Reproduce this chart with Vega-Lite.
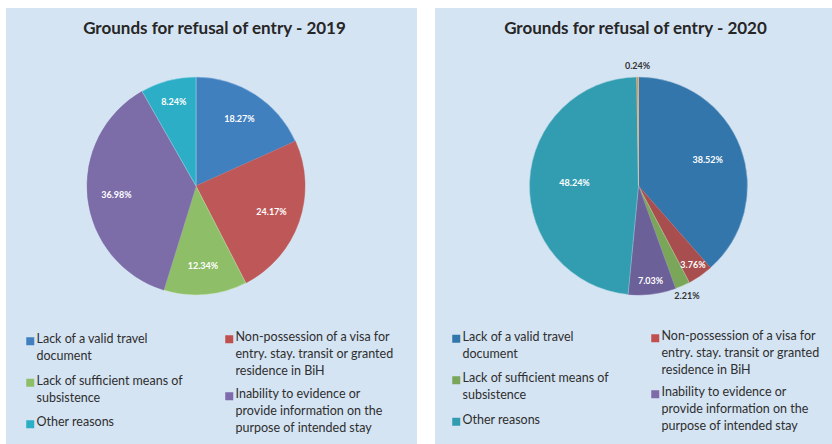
{
  "$schema": "https://vega.github.io/schema/vega-lite/v6.json",
  "background": "white",
  "padding": {"left": 6, "top": 8, "right": 0, "bottom": 0},
  "spacing": 18,
  "config": {
    "view": {"stroke": null, "fill": "#D5E4F3"},
    "font": "Lato",
    "legend": {
      "orient": "none",
      "title": null,
      "padding": 0,
      "symbolType": "square",
      "symbolSize": 64,
      "symbolStrokeWidth": 0,
      "symbolOffset": 0,
      "labelFont": "Lato",
      "labelFontSize": 12.5,
      "labelColor": "#2E2E2E",
      "labelOffset": 0,
      "labelLimit": 400,
      "labelBaseline": "top",
      "rowPadding": 11.5
    },
    "title": {"font": "Lato", "fontSize": 17, "fontWeight": "bold", "color": "#262626", "anchor": "middle", "offset": -30}
  },
  "resolve": {
    "scale": {"fill": "independent", "stroke": "independent", "theta": "independent"},
    "legend": {"fill": "independent", "stroke": "independent"}
  },
  "hconcat": [
    {
      "width": 411,
      "height": 436,
      "view": {"stroke": null, "fill": "#D5E4F3"},
      "title": {"text": "Grounds for refusal of entry - 2019", "dx": 3},
      "data": {"values": [
        {"reason": "Lack of a valid travel document", "share": 0.1827, "order": 1},
        {"reason": "Non-possession of a visa for entry. stay. transit or granted residence in BiH", "share": 0.2417, "order": 2},
        {"reason": "Lack of sufficient means of subsistence", "share": 0.1234, "order": 3},
        {"reason": "Inability to evidence or provide information on the purpose of intended stay", "share": 0.3698, "order": 4},
        {"reason": "Other reasons", "share": 0.0824, "order": 5}
      ]},
      "layer": [
        {
          "mark": {"type": "arc", "radius": 109, "x": 190, "y": 178, "strokeWidth": 0.5},
          "encoding": {
            "theta": {"field": "share", "type": "quantitative", "stack": true},
            "order": {"field": "order", "type": "quantitative"},
            "fill": {
              "field": "reason", "type": "nominal",
              "scale": {
                "domain": ["Lack of a valid travel document", "Non-possession of a visa for entry. stay. transit or granted residence in BiH", "Lack of sufficient means of subsistence", "Inability to evidence or provide information on the purpose of intended stay", "Other reasons"],
                "range": ["#4080BF", "#BE5858", "#8EBF68", "#7C6CA8", "#2BAEC6"]
              },
              "legend": {
                "values": ["Lack of a valid travel document", "Lack of sufficient means of subsistence", "Other reasons"],
                "legendX": 18, "legendY": 327,
                "labelExpr": "datum.label == 'Lack of a valid travel document' ? ['Lack of a valid travel', 'document'] : datum.label == 'Lack of sufficient means of subsistence' ? ['Lack of sufficient means of', 'subsistence'] : datum.label",
                "encode": {
                  "labels": {"update": {"lineHeight": {"value": 17}, "dy": {"value": -8}}}
                }
              }
            },
            "stroke": {
              "field": "reason", "type": "nominal",
              "scale": {
                "domain": ["Non-possession of a visa for entry. stay. transit or granted residence in BiH", "Inability to evidence or provide information on the purpose of intended stay", "Lack of a valid travel document", "Lack of sufficient means of subsistence", "Other reasons"],
                "range": ["#C0504D", "#7E6BAB", "#A9C6E6", "#C9E2B6", "#A6DCE8"]
              },
              "legend": {
                "values": ["Non-possession of a visa for entry. stay. transit or granted residence in BiH", "Inability to evidence or provide information on the purpose of intended stay"],
                "legendX": 217, "legendY": 325,
                "symbolSize": 16, "symbolStrokeWidth": 4, "symbolFillColor": "transparent",
                "rowPadding": 8,
                "labelExpr": "datum.label == 'Non-possession of a visa for entry. stay. transit or granted residence in BiH' ? ['Non-possession of a visa for', 'entry. stay. transit or granted', 'residence in BiH'] : ['Inability to evidence or', 'provide information on the', 'purpose of intended stay']",
                "encode": {
                  "labels": {"update": {"lineHeight": {"value": 17}, "dy": {"value": -8}}}
                }
              }
            }
          }
        },
        {
          "mark": {"type": "text", "x": 190, "y": 178, "font": "Lato", "fontWeight": "bold", "fontSize": 9, "radius": {"expr": "datum.share < 0.1 ? 87 : 80"}},
          "encoding": {
            "theta": {"field": "share", "type": "quantitative", "stack": true},
            "order": {"field": "order", "type": "quantitative"},
            "text": {"field": "share", "type": "quantitative", "format": ".2%"},
            "color": {"condition": {"test": "datum.share < 0.03", "value": "#333333"}, "value": "white"}
          }
        }
      ]
    },
    {
      "width": 397,
      "height": 436,
      "view": {"stroke": null, "fill": "#D5E4F3"},
      "title": {"text": "Grounds for refusal of entry - 2020", "dx": 2},
      "data": {"values": [
        {"reason": "Lack of a valid travel document", "share": 0.3852, "order": 1},
        {"reason": "Non-possession of a visa for entry. stay. transit or granted residence in BiH", "share": 0.0376, "order": 2},
        {"reason": "Lack of sufficient means of subsistence", "share": 0.0221, "order": 3},
        {"reason": "Inability to evidence or provide information on the purpose of intended stay", "share": 0.0703, "order": 4},
        {"reason": "Other reasons", "share": 0.4824, "order": 5},
        {"reason": "Unspecified", "share": 0.0024, "order": 6}
      ]},
      "layer": [
        {
          "mark": {"type": "arc", "radius": 109, "x": 203.5, "y": 178, "strokeWidth": 0.5},
          "encoding": {
            "theta": {"field": "share", "type": "quantitative", "stack": true},
            "order": {"field": "order", "type": "quantitative"},
            "fill": {
              "field": "reason", "type": "nominal",
              "scale": {
                "domain": ["Lack of a valid travel document", "Non-possession of a visa for entry. stay. transit or granted residence in BiH", "Lack of sufficient means of subsistence", "Inability to evidence or provide information on the purpose of intended stay", "Other reasons", "Unspecified"],
                "range": ["#3276AB", "#A84E4E", "#7AA65A", "#6B6098", "#329CB1", "#D98A3A"]
              },
              "legend": {
                "values": ["Lack of a valid travel document", "Lack of sufficient means of subsistence", "Other reasons"],
                "legendX": 15, "legendY": 324.5,
                "labelExpr": "datum.label == 'Lack of a valid travel document' ? ['Lack of a valid travel', 'document'] : datum.label == 'Lack of sufficient means of subsistence' ? ['Lack of sufficient means of', 'subsistence'] : datum.label",
                "encode": {
                  "labels": {"update": {"lineHeight": {"value": 17}, "dy": {"value": -8}}}
                }
              }
            },
            "stroke": {
              "field": "reason", "type": "nominal",
              "scale": {
                "domain": ["Non-possession of a visa for entry. stay. transit or granted residence in BiH", "Inability to evidence or provide information on the purpose of intended stay", "Lack of a valid travel document", "Lack of sufficient means of subsistence", "Other reasons", "Unspecified"],
                "range": ["#C0504D", "#7E69A9", "#9DBCD8", "#BFD5AF", "#A3D1DA", "#EEC9A0"]
              },
              "legend": {
                "values": ["Non-possession of a visa for entry. stay. transit or granted residence in BiH", "Inability to evidence or provide information on the purpose of intended stay"],
                "legendX": 214, "legendY": 324,
                "symbolSize": 16, "symbolStrokeWidth": 4, "symbolFillColor": "transparent",
                "rowPadding": 7,
                "labelExpr": "datum.label == 'Non-possession of a visa for entry. stay. transit or granted residence in BiH' ? ['Non-possession of a visa for', 'entry. stay. transit or granted', 'residence in BiH'] : ['Inability to evidence or', 'provide information on the', 'purpose of intended stay']",
                "encode": {
                  "labels": {"update": {"lineHeight": {"value": 17}, "dy": {"value": -8}}}
                }
              }
            }
          }
        },
        {
          "mark": {"type": "text", "x": 203.5, "y": 178, "font": "Lato", "fontWeight": "bold", "fontSize": 9, "radius": {"expr": "datum.share < 0.03 ? 120 : datum.share < 0.08 ? 96 : datum.share > 0.45 ? 64 : 74"}},
          "encoding": {
            "theta": {"field": "share", "type": "quantitative", "stack": true},
            "order": {"field": "order", "type": "quantitative"},
            "text": {"field": "share", "type": "quantitative", "format": ".2%"},
            "color": {"condition": {"test": "datum.share < 0.03", "value": "#333333"}, "value": "white"}
          }
        }
      ]
    }
  ]
}
